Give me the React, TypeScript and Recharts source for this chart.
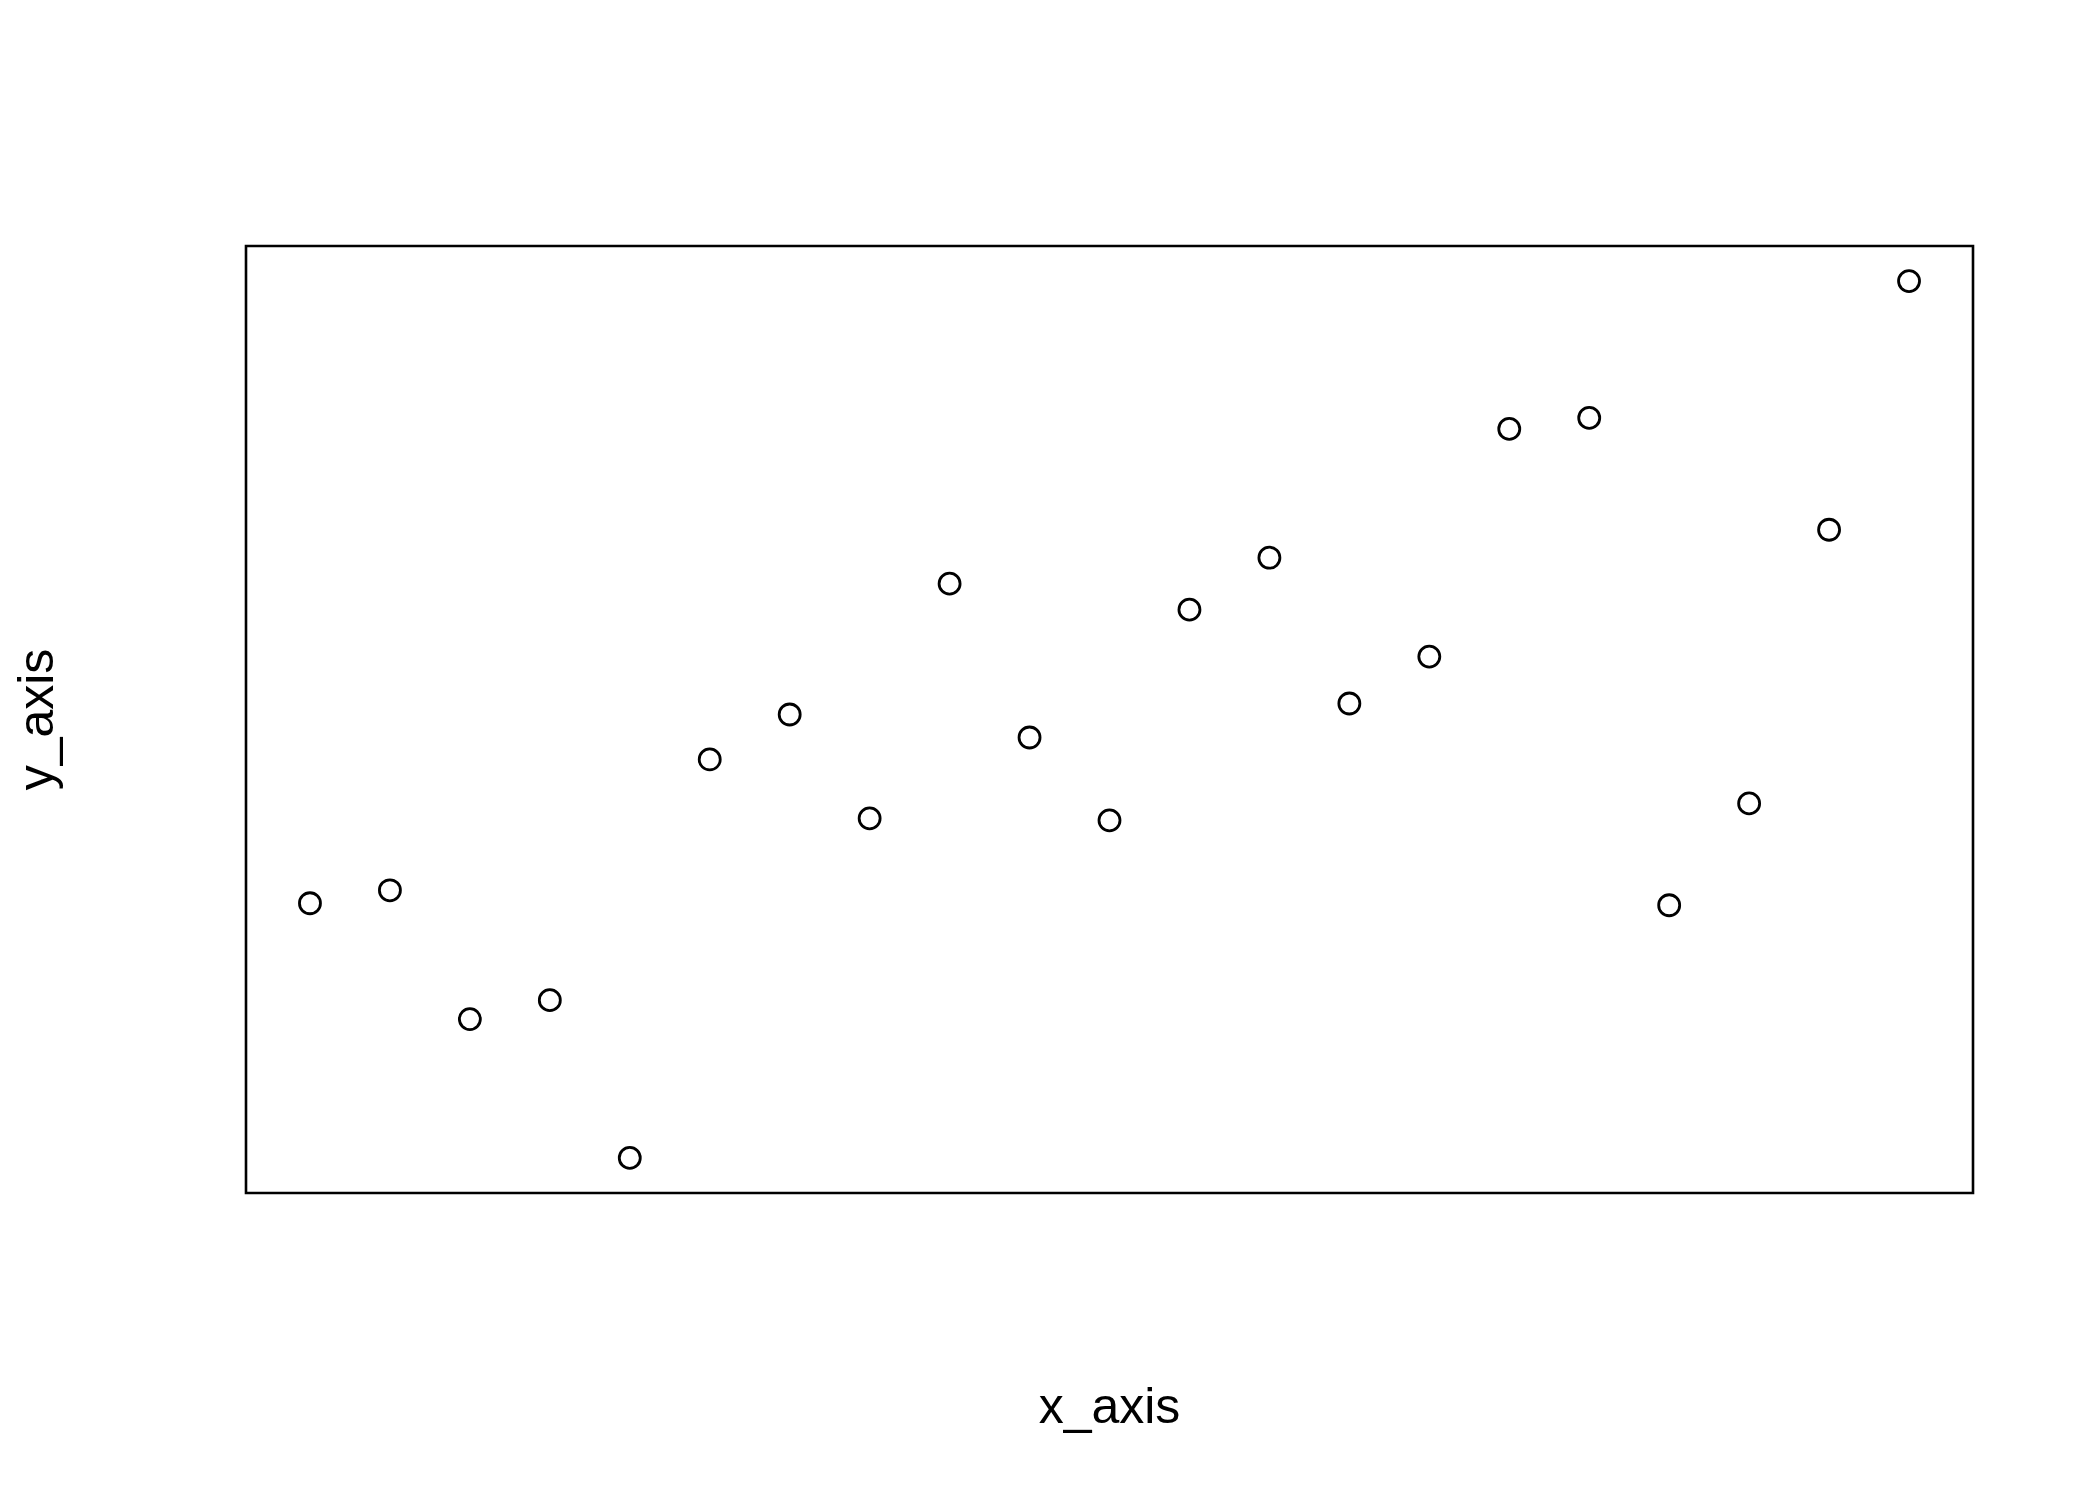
import { ScatterChart, Scatter, XAxis, YAxis, ReferenceArea } from "recharts";

// x positions are simply the index 1..21
const xValues = [1, 2, 3, 4, 5, 6, 7, 8, 9, 10, 11, 12, 13, 14, 15, 16, 17, 18, 19, 20, 21];
const yValues = [
  25.5, 26.8, 13.9, 15.8, 0.0, 39.9, 44.4, 34.0, 57.5, 42.1, 33.8,
  54.9, 60.1, 45.5, 50.2, 73.0, 74.1, 25.3, 35.5, 62.9, 87.8,
];

const xLabel = "x_axis";
const yLabel = "y_axis";

const data = xValues.map((x, i) => ({ x, y: yValues[i] }));

// base-R style 4% padding on each side of the data range
const pad = (vals: number[]): [number, number] => {
  const lo = Math.min(...vals);
  const hi = Math.max(...vals);
  const r = hi - lo;
  return [lo - 0.04 * r, hi + 0.04 * r];
};
const xDomain = pad(xValues);
const yDomain = pad(yValues);

const FONT = "'Liberation Sans', Arial, Helvetica, sans-serif";

const XTitle = ({ viewBox }: any) => {
  const vb = viewBox || { x: 246, y: 1193, width: 1727, height: 307 };
  return (
    <text x={vb.x + vb.width / 2} y={vb.y + 230} textAnchor="middle" fontSize={50} fontFamily={FONT} fill="#000">
      {xLabel}
    </text>
  );
};

const YTitle = ({ viewBox }: any) => {
  const vb = viewBox || { x: 0, y: 246, width: 246, height: 947 };
  const cx = vb.x + 53;
  const cy = vb.y + vb.height / 2;
  return (
    <text x={cx} y={cy} transform={`rotate(-90 ${cx} ${cy})`} textAnchor="middle" fontSize={50} fontFamily={FONT} fill="#000">
      {yLabel}
    </text>
  );
};

const OpenCircle = (props: any) => (
  <circle cx={props.cx} cy={props.cy} r={10.5} fill="none" stroke="#000" strokeWidth={2.8} />
);

export default function App() {
  return (
    <div style={{ position: "absolute", left: 0, top: 0, width: 2100, height: 1500, background: "#fff" }}>
      <ScatterChart width={2100} height={1500} margin={{ top: 246, right: 127, left: 0, bottom: 0 }}>
        <XAxis
          type="number" dataKey="x" domain={xDomain} allowDataOverflow
          tick={false} tickLine={false} axisLine={false} height={307}
          label={<XTitle />}
        />
        <YAxis
          type="number" dataKey="y" domain={yDomain} allowDataOverflow
          tick={false} tickLine={false} axisLine={false} width={246}
          label={<YTitle />}
        />
        <ReferenceArea
          x1={xDomain[0]} x2={xDomain[1]} y1={yDomain[0]} y2={yDomain[1]}
          fill="none" fillOpacity={0} stroke="#000" strokeWidth={2.6} ifOverflow="visible"
        />
        <Scatter data={data} shape={<OpenCircle />} isAnimationActive={false} />
      </ScatterChart>
    </div>
  );
}
